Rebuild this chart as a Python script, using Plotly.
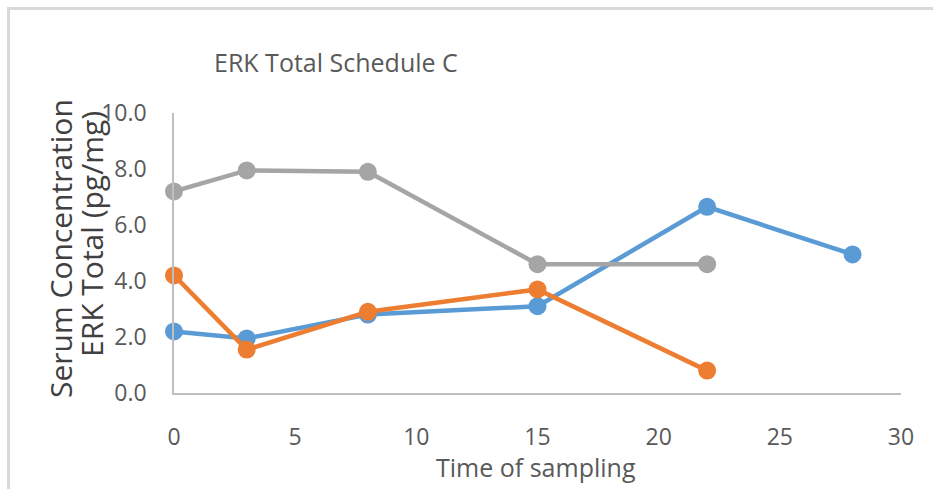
import plotly.graph_objects as go

# Data
blue_x = [0, 3, 8, 15, 22, 28]
blue_y = [2.2, 1.95, 2.8, 3.1, 6.65, 4.95]

orange_x = [0, 3, 8, 15, 22]
orange_y = [4.2, 1.55, 2.9, 3.7, 0.8]

gray_x = [0, 3, 8, 15, 22]
gray_y = [7.2, 7.95, 7.9, 4.6, 4.6]

x_ticks = [0, 5, 10, 15, 20, 25, 30]
y_ticks = [0, 2, 4, 6, 8, 10]
y_tick_text = ["0.0", "2.0", "4.0", "6.0", "8.0", "10.0"]

title_text = "ERK Total Schedule C"
x_title = "Time of sampling"
y_title_1 = "Serum Concentration"
y_title_2 = "ERK Total (pg/mg)"

BLUE = "#5B9BD5"
ORANGE = "#ED7D31"
GRAY = "#A5A5A5"
FONT = "Open Sans"

L, R, T, B = 174, 901, 113, 393
PW, PH = R - L, B - T


def px(x):
    return (x - L) / PW


def py(y):
    return (B - y) / PH


fig = go.Figure()
for xs, ys, c in [(blue_x, blue_y, BLUE), (orange_x, orange_y, ORANGE), (gray_x, gray_y, GRAY)]:
    fig.add_trace(go.Scatter(
        x=xs, y=ys, mode="lines+markers",
        line=dict(color=c, width=4.5),
        marker=dict(color=c, size=18),
        cliponaxis=False, showlegend=False,
    ))

fig.update_layout(
    width=933, height=489,
    margin=dict(l=L, r=933 - R, t=T, b=489 - B),
    paper_bgcolor="white", plot_bgcolor="white",
    font=dict(family=FONT, color="#595959"),
    xaxis=dict(
        range=[0, 30], tickvals=x_ticks, showgrid=False, zeroline=False,
        showline=True, linecolor="#BFBFBF", linewidth=1.5,
        ticks="outside", ticklen=23, tickcolor="rgba(0,0,0,0)",
        tickfont=dict(size=23, color="#595959", family=FONT),
    ),
    yaxis=dict(
        range=[0, 10], tickvals=y_ticks, ticktext=y_tick_text, showgrid=False, zeroline=False,
        showline=True, linecolor="#BFBFBF", linewidth=1.5,
        ticks="outside", ticklen=21, tickcolor="rgba(0,0,0,0)",
        tickfont=dict(size=23, color="#595959", family=FONT),
    ),
    annotations=[
        dict(text=title_text, xref="paper", yref="paper", x=px(212), y=py(62),
             xanchor="left", yanchor="middle", showarrow=False,
             font=dict(size=25, color="#595959", family=FONT)),
        dict(text=x_title, xref="paper", yref="paper", x=px(536), y=py(467),
             xanchor="center", yanchor="middle", showarrow=False,
             font=dict(size=25, color="#595959", family=FONT)),
        dict(text=y_title_1, xref="paper", yref="paper", x=px(60), y=py(248),
             xanchor="center", yanchor="middle", showarrow=False, textangle=-90,
             font=dict(size=30, color="#404040", family=FONT)),
        dict(text=y_title_2, xref="paper", yref="paper", x=px(91), y=py(234),
             xanchor="center", yanchor="middle", showarrow=False, textangle=-90,
             font=dict(size=30, color="#404040", family=FONT)),
    ],
    shapes=[
        dict(type="line", xref="paper", yref="paper", x0=px(7), x1=px(933),
             y0=py(8.5), y1=py(8.5), line=dict(color="#D9D9D9", width=3)),
        dict(type="line", xref="paper", yref="paper", x0=px(8.5), x1=px(8.5),
             y0=py(7), y1=py(489), line=dict(color="#D9D9D9", width=3)),
    ],
)

fig.write_html("out.html", config={"displayModeBar": False},
               post_script="document.body.style.margin='0';")
